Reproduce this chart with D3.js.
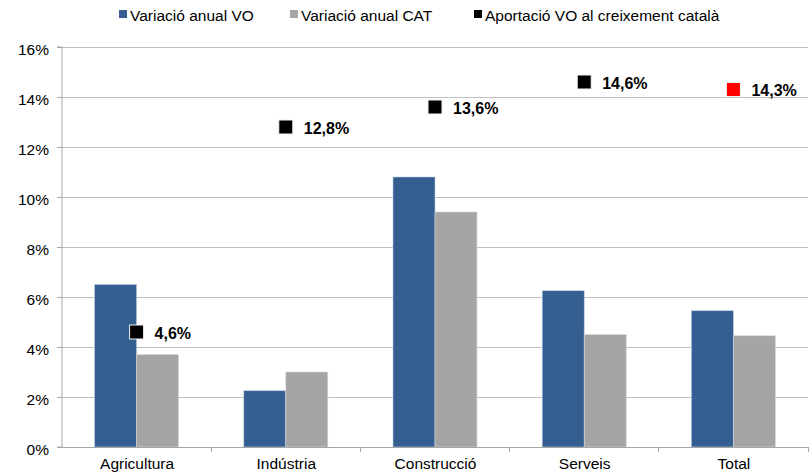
<!DOCTYPE html>
<html><head><meta charset="utf-8">
<script src="https://cdn.jsdelivr.net/npm/d3@7"></script>
<style>body{margin:0;background:#fff;font-family:Arial,"Liberation Sans",sans-serif;}</style>
</head><body>
<svg id="c" width="810" height="473"></svg>
<script>
const categories = ["Agricultura","Indústria","Construcció","Serveis","Total"];
const seriesNames = ["Variació anual VO","Variació anual CAT","Aportació VO al creixement català"];
const variacioVO = [6.5, 2.25, 10.8, 6.25, 5.45];
const variacioCAT = [3.7, 3.0, 9.4, 4.5, 4.45];
const aportacioVO = [4.6, 12.8, 13.6, 14.6, 14.3];
const aportacioLabels = ["4,6%","12,8%","13,6%","14,6%","14,3%"];
const yTicks = [0,2,4,6,8,10,12,14,16];

const FONT = "Arial, 'Liberation Sans', sans-serif";
const svg = d3.select("#c").attr("font-family", FONT);
const m = {left:62, right:2, top:47, bottom:26};
const W = 810, H = 473;
const x = d3.scaleBand().domain(categories).range([m.left, W-m.right]);
const y = d3.scaleLinear().domain([0,16]).range([H-m.bottom, m.top]);
const xs = d3.scaleBand().domain(["VO","CAT"]).range([0, 84]);
const bw = 84, off = (x.bandwidth()-bw)/2;

// gridlines
svg.append("g").selectAll("line").data(yTicks.filter(d=>d>0)).join("line")
  .attr("x1", m.left).attr("x2", W-m.right)
  .attr("y1", d=>Math.round(y(d))+0.5).attr("y2", d=>Math.round(y(d))+0.5)
  .attr("stroke","#BFBFBF").attr("stroke-width",1);

// y axis
const ya = svg.append("g").attr("transform",`translate(${m.left},0)`)
  .call(d3.axisLeft(y).tickValues(yTicks).tickFormat(d=>d+"%").tickSize(5).tickPadding(8));
ya.select(".domain").attr("stroke","#A6A6A6").attr("d",`M-5,${y(16)}H0V${y(0)}H-5`);
ya.selectAll(".tick line").attr("stroke","#A6A6A6");
ya.selectAll("text").attr("font-size","15.5px").attr("font-family",FONT).attr("fill","#000").attr("dy","0.5em");

// bars
const g = svg.append("g");
categories.forEach((c,i)=>{
  g.append("rect").attr("x", x(c)+off+xs("VO")).attr("y", y(variacioVO[i]))
    .attr("width", xs.bandwidth()).attr("height", y(0)-y(variacioVO[i]))
    .attr("fill","#365F91").attr("stroke","#B8CCE4").attr("stroke-width",0.6);
  g.append("rect").attr("x", x(c)+off+xs("CAT")).attr("y", y(variacioCAT[i]))
    .attr("width", xs.bandwidth()).attr("height", y(0)-y(variacioCAT[i]))
    .attr("fill","#A5A5A5").attr("stroke","#D9D9D9").attr("stroke-width",0.6);
});

// x axis
const xa = svg.append("g").attr("transform",`translate(0,${y(0)})`);
xa.append("line").attr("x1",m.left-5).attr("x2",W-m.right).attr("y1",0).attr("y2",0)
  .attr("stroke","#A6A6A6").attr("shape-rendering","crispEdges");
const bounds = categories.map(c=>x(c)+x.bandwidth());
xa.selectAll("line.t").data(bounds).join("line").attr("class","t")
  .attr("x1",d=>d).attr("x2",d=>d).attr("y1",0).attr("y2",5)
  .attr("stroke","#A6A6A6").attr("shape-rendering","crispEdges");
xa.selectAll("text").data(categories).join("text")
  .attr("x",d=>x(d)+x.bandwidth()/2+0.5).attr("y",22)
  .attr("text-anchor","middle").attr("font-size","15.5px").attr("fill","#000").text(d=>d);

// markers
const s = 14;
categories.forEach((c,i)=>{
  const cx = x(c)+x.bandwidth()/2, cy = y(aportacioVO[i]);
  g.append("rect").attr("x",cx-s/2).attr("y",cy-s/2).attr("width",s).attr("height",s)
    .attr("fill", i===4 ? "#FF0000" : "#000").attr("stroke","#F2F2F2").attr("stroke-width",1);
  g.append("text").attr("x",cx+18).attr("y",cy+6.5)
    .attr("font-size","16px").attr("font-weight","bold").attr("fill","#000").text(aportacioLabels[i]);
});

// legend
const legX = [119, 290, 474];
const legColors = ["#365F91","#A5A5A5","#000"];
const lg = svg.append("g");
seriesNames.forEach((n,i)=>{
  lg.append("rect").attr("x",legX[i]).attr("y",10).attr("width",8).attr("height",8).attr("fill",legColors[i]);
  lg.append("text").attr("x",legX[i]+11).attr("y",21).attr("font-size","15.5px").attr("fill","#000").text(n);
});
</script>
</body></html>
